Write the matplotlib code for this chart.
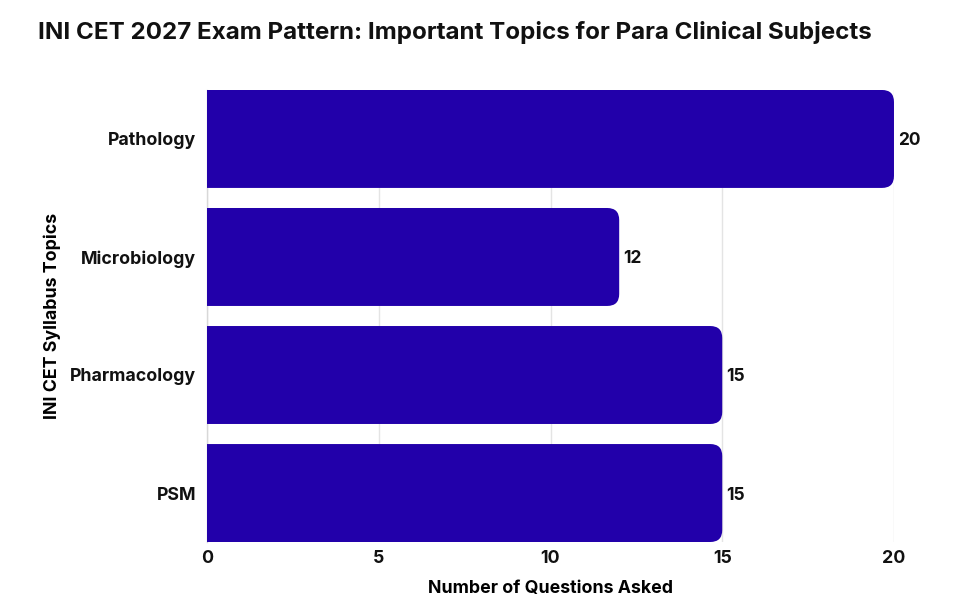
import matplotlib
matplotlib.use("Agg")
import matplotlib.pyplot as plt
from matplotlib.patches import FancyBboxPatch

# values
topics = ["Pathology", "Microbiology", "Pharmacology", "PSM"]
questions = [20, 12, 15, 15]
x_ticks = [0, 5, 10, 15, 20]

title = "INI CET 2027 Exam Pattern: Important Topics for Para Clinical Subjects"
bar_color = "#2200AA"

plt.rcParams["font.family"] = ["Inter", "DejaVu Sans"]

def main():
    fig = plt.figure(figsize=(9.62, 6.15), dpi=100)
    ax = fig.add_axes([0.2152, 0.1187, 0.7141, 0.735])

    n = len(topics)
    bar_h = 0.83
    ax.set_xlim(0, 20)
    ax.set_ylim(n - 0.5 - (1 - bar_h) / 2, -0.5 + (1 - bar_h) / 2)

    # px per data unit, used to keep the rounded corners circular
    bbox = ax.get_position()
    px_x = bbox.width * fig.get_figwidth() * fig.dpi / 20
    px_y = bbox.height * fig.get_figheight() * fig.dpi / (n - (1 - bar_h))
    aspect = px_x / px_y
    radius = 12 / px_x

    for i, (name, val) in enumerate(zip(topics, questions)):
        # start left of zero so only the right corners show rounding (axes clips the rest)
        patch = FancyBboxPatch((-2, i - bar_h / 2), val + 2, bar_h,
                               boxstyle=f"round,pad=0,rounding_size={radius}",
                               mutation_aspect=aspect,
                               facecolor=bar_color, edgecolor="none", zorder=3)
        ax.add_patch(patch)
        ax.text(val + 0.12, i, str(val), va="center_baseline", ha="left",
                fontsize=12.5, fontweight="bold", color="#111111")

    ax.set_yticks(range(n))
    ax.set_yticklabels(topics, fontsize=12.8, fontweight="bold")
    ax.set_xticks(x_ticks)
    ax.set_xticklabels([str(t) for t in x_ticks], fontsize=12.8, fontweight="bold")
    ax.tick_params(axis="both", length=0, colors="#111111")
    ax.tick_params(axis="y", pad=8)
    ax.tick_params(axis="x", pad=6)

    ax.grid(axis="x", color="#e4e4e4", linewidth=1, zorder=0)
    ax.set_axisbelow(True)
    for side in ["top", "right", "bottom"]:
        ax.spines[side].set_visible(False)
    ax.spines["left"].set_color("#d8d8d8")
    ax.spines["left"].set_linewidth(1)

    ax.set_xlabel("Number of Questions Asked", fontsize=12.8, fontweight="bold", labelpad=9)
    ax.set_ylabel("INI CET Syllabus Topics", fontsize=12.8, fontweight="bold", labelpad=6)

    fig.text(38 / 962, 1 - 32 / 615, title, fontsize=17.4, fontweight="bold",
             ha="left", va="center", color="#111111")

    fig.savefig("out.png", dpi=100, facecolor="white")
    plt.close(fig)

if __name__ == "__main__":
    main()
